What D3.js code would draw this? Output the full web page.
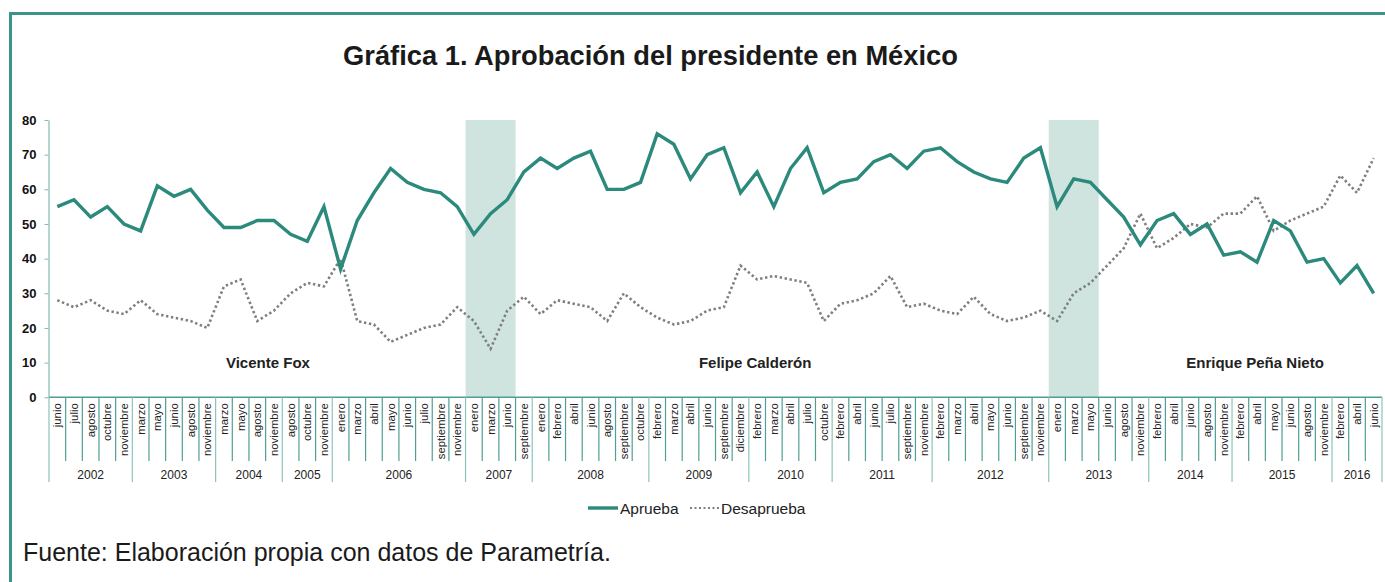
<!DOCTYPE html>
<html>
<head>
<meta charset="utf-8">
<script src="https://cdn.jsdelivr.net/npm/d3@7"></script>
<style>
  html, body { margin: 0; padding: 0; background: #fff; }
  svg { display: block; }
</style>
</head>
<body>
<svg id="chart" width="1385" height="582"></svg>
<script>
// ---------------- DATA ----------------
const years = ["2002","2003","2004","2005","2006","2007","2008","2009","2010","2011","2012","2013","2014","2015","2016"];
const monthsByYear = [
  ["junio","julio","agosto","octubre","noviembre"],
  ["marzo","mayo","junio","agosto","noviembre"],
  ["marzo","mayo","agosto","noviembre"],
  ["agosto","octubre","noviembre"],
  ["enero","marzo","abril","mayo","junio","julio","septiembre","noviembre"],
  ["enero","marzo","junio","septiembre"],
  ["enero","febrero","abril","junio","agosto","septiembre","octubre"],
  ["febrero","marzo","abril","junio","septiembre","diciembre"],
  ["febrero","marzo","abril","julio","octubre"],
  ["febrero","abril","junio","julio","septiembre","noviembre"],
  ["febrero","marzo","abril","mayo","junio","septiembre","noviembre"],
  ["enero","marzo","mayo","junio","agosto","noviembre"],
  ["febrero","abril","junio","agosto","noviembre"],
  ["febrero","abril","mayo","junio","agosto","noviembre"],
  ["febrero","abril","junio"]
];
const aprueba = [
  55,57,52,55,50,
  48,61,58,60,54,
  49,49,51,51,
  47,45,55,
  37,51,59,66,62,60,59,55,
  47,53,57,65,
  69,66,69,71,60,60,62,
  76,73,63,70,72,59,
  65,55,66,72,59,
  62,63,68,70,66,71,
  72,68,65,63,62,69,72,
  55,63,62,57,52,44,
  51,53,47,50,41,
  42,39,51,48,39,40,
  33,38,30
];
const desaprueba = [
  28,26,28,25,24,
  28,24,23,22,20,
  32,34,22,25,
  30,33,32,
  40,22,21,16,18,20,21,26,
  22,14,25,29,
  24,28,27,26,22,30,26,
  23,21,22,25,26,38,
  34,35,34,33,22,
  27,28,30,35,26,27,
  25,24,29,24,22,23,25,
  22,30,33,38,43,53,
  43,46,50,49,53,
  53,58,48,51,53,55,
  64,59,69
];
const yTicks = [0,10,20,30,40,50,60,70,80];
const seriesNames = ["Aprueba","Desaprueba"];
const transitionBands = [["2007-enero","2007-junio"],["2013-enero","2013-mayo"]];
const presidents = ["Vicente Fox","Felipe Calderón","Enrique Peña Nieto"];
const presidentAnchors = ["2004-noviembre","2010-febrero","2015-abril"];
const presidentLabelValue = 10;
const titleText = "Gráfica 1. Aprobación del presidente en México";
const sourceText = "Fuente: Elaboración propia con datos de Parametría.";

// ---------------- BUILD ----------------
const cats = [];
years.forEach((yr, i) => monthsByYear[i].forEach(m => cats.push({key: yr + "-" + m, year: yr, month: m})));
const keys = cats.map(c => c.key);

const svg = d3.select("#chart");
const TEAL = "#2c8a7c";
const AXIS = "#4f9f92";
const FONT = "'Liberation Sans', Arial, sans-serif";

const x = d3.scaleBand().domain(keys).range([49, 1382]).paddingInner(0).paddingOuter(0);
const y = d3.scaleLinear().domain([0, 80]).range([397.3, 120]);
const bw = x.bandwidth();
const cx = k => x(k) + bw / 2;

// frame
svg.append("line").attr("x1", 9).attr("x2", 1385).attr("y1", 13.5).attr("y2", 13.5)
  .attr("stroke", "#3a9487").attr("stroke-width", 3);
svg.append("line").attr("x1", 10.5).attr("x2", 10.5).attr("y1", 12).attr("y2", 582)
  .attr("stroke", "#3a9487").attr("stroke-width", 3);

// title
const title = svg.append("text").attr("x", 650.5).attr("y", 65).attr("text-anchor", "middle")
  .attr("font-family", FONT).attr("font-weight", "bold").attr("font-size", 24)
  .attr("fill", "#1a1a1a").text(titleText);
(function fit(t, w) { const L = t.node().getComputedTextLength(); t.attr("font-size", 24 * w / L); })(title, 615);

// transition bands
svg.append("g").selectAll("rect").data(transitionBands).join("rect")
  .attr("x", d => x(d[0]))
  .attr("width", d => x(d[1]) + bw - x(d[0]))
  .attr("y", y(80)).attr("height", y(0) - y(80))
  .attr("fill", "#cfe3df");

// y axis
const yAxis = svg.append("g").attr("transform", "translate(48.5,0)")
  .call(d3.axisLeft(y).tickValues(yTicks).tickSize(4).tickSizeOuter(0));
yAxis.select(".domain").attr("stroke", "#7fbcb1").attr("stroke-width", 1.2);
yAxis.selectAll(".tick line").attr("stroke", "#7fbcb1");
yAxis.selectAll(".tick text").attr("x", -12).attr("font-family", FONT).attr("font-weight", "bold")
  .attr("font-size", 13).attr("fill", "#111");

// x axis
const y0 = y(0);
const xg = svg.append("g");
xg.append("line").attr("x1", 49).attr("x2", 1382).attr("y1", y0).attr("y2", y0)
  .attr("stroke", AXIS).attr("stroke-width", 1.5);
// category separators
const yearStarts = new Set();
let acc = 0;
monthsByYear.forEach(ms => { yearStarts.add(acc); acc += ms.length; });
yearStarts.add(acc);
const boundaries = d3.range(keys.length + 1);
xg.selectAll("line.sep").data(boundaries).join("line").attr("class", "sep")
  .attr("x1", i => 49 + i * bw).attr("x2", i => 49 + i * bw)
  .attr("y1", y0).attr("y2", i => yearStarts.has(i) ? 482 : 461)
  .attr("stroke", i => yearStarts.has(i) ? "#8cc4ba" : AXIS).attr("stroke-width", 1.2);
// month labels
xg.selectAll("text.month").data(cats).join("text").attr("class", "month")
  .attr("transform", d => `translate(${cx(d.key)},${y0 + 6}) rotate(-90)`)
  .attr("text-anchor", "end").attr("dy", "0.35em")
  .attr("font-family", FONT).attr("font-size", 11.3).attr("fill", "#222")
  .text(d => d.month);
// year labels
let start = 0;
years.forEach((yr, i) => {
  const n = monthsByYear[i].length;
  const mid = 49 + (start + n / 2) * bw;
  xg.append("text").attr("x", mid).attr("y", 479).attr("text-anchor", "middle")
    .attr("font-family", FONT).attr("font-size", 12).attr("fill", "#222").text(yr);
  start += n;
});

// president labels
svg.append("g").selectAll("text").data(presidents).join("text")
  .attr("x", (d, i) => cx(presidentAnchors[i]) - (i === 0 ? 6 : 2))
  .attr("y", y(presidentLabelValue) + 5.5)
  .attr("text-anchor", "middle").attr("font-family", FONT).attr("font-weight", "bold")
  .attr("font-size", 15).attr("fill", "#222").text(d => d);

// lines
const lineGen = d3.line().x((d, i) => cx(keys[i])).y(d => y(d));
svg.append("path").datum(desaprueba).attr("d", lineGen).attr("fill", "none")
  .attr("stroke", "#7f7f7f").attr("stroke-width", 2.6).attr("stroke-dasharray", "2.4,2.6");
svg.append("path").datum(aprueba).attr("d", lineGen).attr("fill", "none")
  .attr("stroke", TEAL).attr("stroke-width", 3.4).attr("stroke-linejoin", "miter");

// legend
const lg = svg.append("g");
lg.append("line").attr("x1", 588).attr("x2", 618).attr("y1", 508).attr("y2", 508)
  .attr("stroke", TEAL).attr("stroke-width", 3.4);
lg.append("text").attr("x", 620).attr("y", 513.5).attr("font-family", FONT).attr("font-size", 15.5)
  .attr("fill", "#222").text(seriesNames[0]);
lg.append("line").attr("x1", 690).attr("x2", 719).attr("y1", 508).attr("y2", 508)
  .attr("stroke", "#7f7f7f").attr("stroke-width", 2.2).attr("stroke-dasharray", "2,2.5");
lg.append("text").attr("x", 721).attr("y", 513.5).attr("font-family", FONT).attr("font-size", 15.5)
  .attr("fill", "#222").text(seriesNames[1]);

// source
const src = svg.append("text").attr("x", 23).attr("y", 561).attr("font-family", FONT)
  .attr("font-size", 20).attr("fill", "#1a1a1a").text(sourceText);
(function fit(t, w) { const L = t.node().getComputedTextLength(); t.attr("font-size", 20 * w / L); })(src, 588);
</script>
</body>
</html>
